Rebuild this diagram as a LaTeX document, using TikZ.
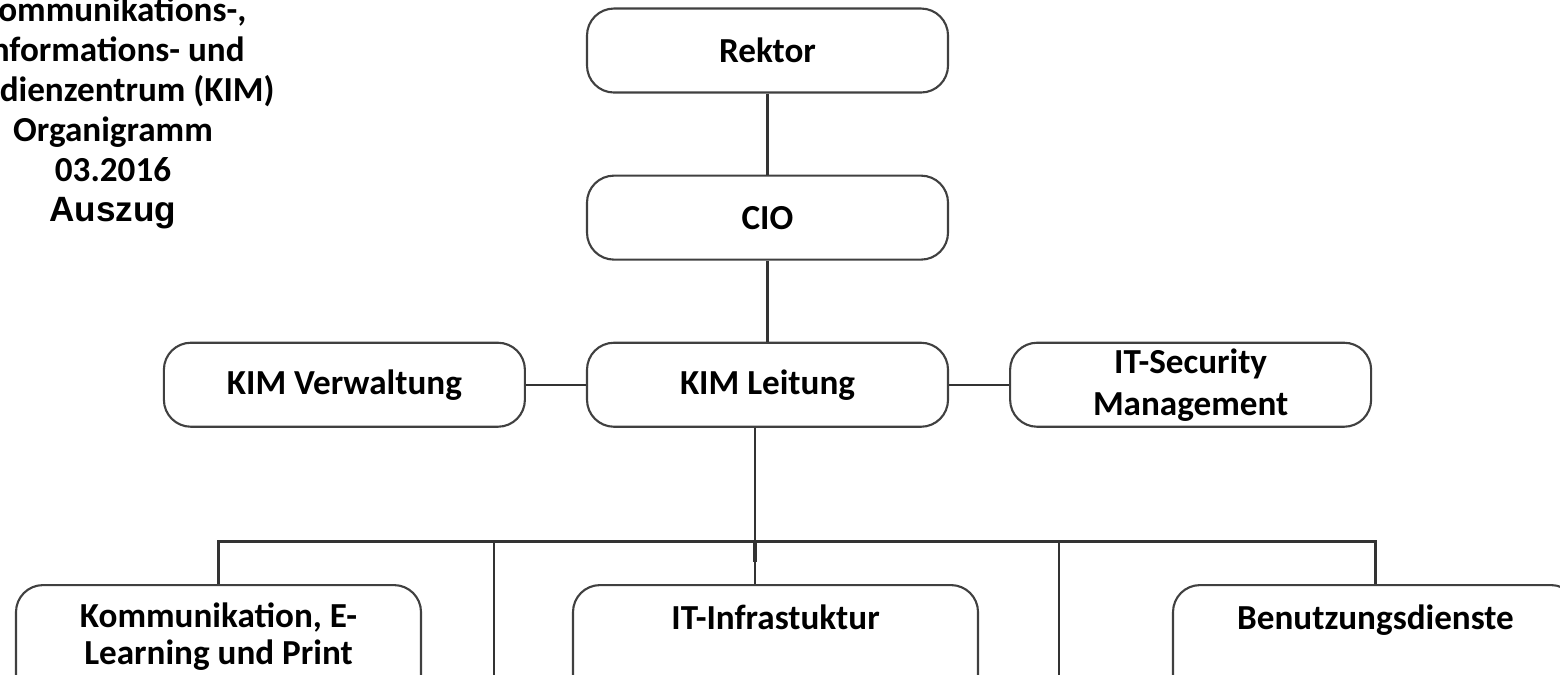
\documentclass[tikz,border=0pt]{standalone}
\usepackage{fontspec}
\setmainfont{Carlito}
\newfontfamily\arialfont{Liberation Sans}
\usetikzlibrary{positioning}

\tikzset{
  unit/.style={draw=black!75, line width=0.6pt, rounded corners=0.27cm,
    minimum width=3.61cm, minimum height=0.84cm, inner ysep=1pt,
    align=center, font=\fontsize{10}{12}\selectfont\bfseries},
  dept/.style={draw=black!75, line width=0.6pt, rounded corners=0.27cm,
    minimum width=4.05cm, minimum height=2cm, anchor=north},
  depttext/.style={inner sep=0pt, align=center,
    font=\fontsize{10}{10.5}\selectfont\bfseries},
  link/.style={draw=black!80, line width=0.6pt}
}

\begin{document}
\begin{tikzpicture}
  \useasboundingbox (0,0) rectangle (15.6,-6.74);

  % Titel oben links
  \node[inner sep=0pt, anchor=north, align=center,
        font=\fontsize{10}{11.4}\selectfont\bfseries] (titel) at (1.13,0.04)
    {Kommunikations-,\\Informations- und\\Medienzentrum (KIM)\\Organigramm\\03.2016\\{\arialfont Auszug}};

  % Leitungsebene
  \node[unit] (rektor) at (7.675,-0.505) {Rektor};
  \node[unit, below=0.81cm of rektor] (cio) {CIO};
  \node[unit, below=0.81cm of cio] (leitung) {KIM Leitung};
  \node[unit, left=0.6cm of leitung] (verwaltung) {KIM Verwaltung};
  \node[unit, right=0.6cm of leitung] (security) {IT-Security\\Management};

  % Abteilungen
  \node[dept] (komm) at (2.185,-5.84) {};
  \node[dept] (infra) at (7.755,-5.84) {};
  \node[dept] (benutz) at (13.755,-5.84) {};
  \node[depttext, below=0.18cm of komm.north] (kommtext) {Kommunikation, E-\\Learning und Print};
  \node[depttext, below=0.2cm of infra.north] (infratext) {IT-Infrastuktur};
  \node[depttext, below=0.2cm of benutz.north] (benutztext) {Benutzungsdienste};

  \coordinate (bus) at (7.55,-5.415);
  \coordinate (links) at (4.94,-5.415);
  \coordinate (rechts) at (10.59,-5.415);
  \coordinate (linksunten) at (4.94,-7.2);
  \coordinate (rechtsunten) at (10.59,-7.2);

  \draw[link] (rektor) -- (cio);
  \draw[link] (cio) -- (leitung);
  \draw[link] (verwaltung) -- (leitung);
  \draw[link] (leitung) -- (security);
  \draw[link] (leitung.south -| bus) -- (bus);
  \draw[link] (komm.north) |- (bus) -| (benutz.north);
  \draw[link] (bus) -- (infra.north -| bus);
  \draw[link, line width=1.1pt] (bus) -- ++(0,-0.2);
  \draw[link] (links) -- (linksunten);
  \draw[link] (rechts) -- (rechtsunten);
\end{tikzpicture}
\end{document}
